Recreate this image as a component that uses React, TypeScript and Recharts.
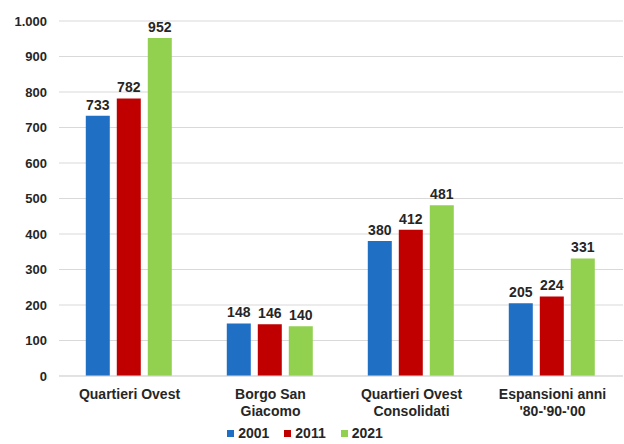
import { BarChart, Bar, XAxis, YAxis, CartesianGrid, LabelList, Legend } from 'recharts';

const categories = ['Quartieri Ovest', 'Borgo San\nGiacomo', 'Quartieri Ovest\nConsolidati', "Espansioni anni\n'80-'90-'00"];
const v2001 = [733, 148, 380, 205];
const v2011 = [782, 146, 412, 224];
const v2021 = [952, 140, 481, 331];
const yTicks = [0, 100, 200, 300, 400, 500, 600, 700, 800, 900, 1000];

const series = [
  { key: 'y2001', name: '2001', color: '#1F6FC5' },
  { key: 'y2011', name: '2011', color: '#C00000' },
  { key: 'y2021', name: '2021', color: '#92D050' },
];

const data = categories.map((c, i) => ({ cat: c, y2001: v2001[i], y2011: v2011[i], y2021: v2021[i] }));

const FONT = '"Liberation Sans", Arial, sans-serif';

const fmt = (v: number) => String(v).replace(/\B(?=(\d{3})+(?!\d))/g, '.');

function CatTick({ x, y, payload }: any) {
  const lines = String(payload.value).split('\n');
  return (
    <text x={x} y={y} textAnchor="middle" fontFamily={FONT} fontSize={14} fontWeight="bold" fill="#262626">
      {lines.map((l, i) => (
        <tspan key={i} x={x} dy={i === 0 ? 15 : 17}>{l}</tspan>
      ))}
    </text>
  );
}

function LegendBox() {
  return (
    <div style={{ height: 16, display: 'flex', justifyContent: 'center', gap: 15, paddingRight: 14, fontFamily: FONT, fontSize: 14, lineHeight: '16px', fontWeight: 'bold', color: '#262626' }}>
      {series.map((s) => (
        <div key={s.key} style={{ display: 'flex', alignItems: 'center', gap: 4 }}>
          <span style={{ width: 7, height: 7, background: s.color, display: 'inline-block' }} />
          <span>{s.name}</span>
        </div>
      ))}
    </div>
  );
}

export default function App() {
  return (
    <div style={{ position: 'absolute', left: 0, top: 0, width: 624, height: 444, background: '#fff' }}>
      <BarChart width={624} height={444} data={data} margin={{ top: 21, right: 1, bottom: 22, left: 0 }} barCategoryGap="19%" barGap={7}>
        <CartesianGrid vertical={false} stroke="#d9d9d9" />
        <XAxis dataKey="cat" height={30} tick={<CatTick />} tickLine={false} axisLine={{ stroke: '#d9d9d9' }} interval={0} />
        <YAxis
          width={59}
          domain={[0, 1000]}
          ticks={yTicks}
          tickFormatter={fmt}
          tickLine={false}
          axisLine={false}
          tickMargin={6}
          tick={{ fontFamily: FONT, fontSize: 13, fontWeight: 'bold', fill: '#262626' }}
        />
        <Legend verticalAlign="bottom" wrapperStyle={{ left: 0, width: 624, bottom: 3, height: 16 }} content={() => <LegendBox />} />
        {series.map((s) => (
          <Bar key={s.key} dataKey={s.key} name={s.name} fill={s.color} isAnimationActive={false}>
            <LabelList dataKey={s.key} position="top" offset={6} style={{ fontFamily: FONT, fontSize: 14, fontWeight: 'bold', fill: '#262626' }} />
          </Bar>
        ))}
      </BarChart>
    </div>
  );
}
